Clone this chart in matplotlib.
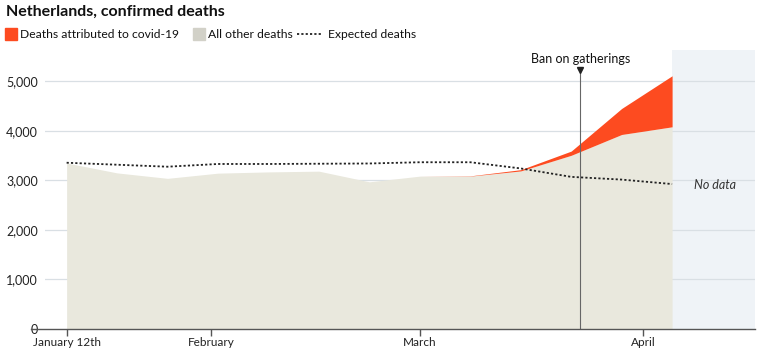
import matplotlib.pyplot as plt
import matplotlib.dates as mdates
from matplotlib.patches import Rectangle
from matplotlib.lines import Line2D
import pandas as pd

plt.rcParams['font.family'] = ['Lato', 'DejaVu Sans']

# weekly data, Jan 12th to Apr 5th 2020
weeks = pd.date_range('2020-01-12', periods=13, freq='7D')
other_deaths = [3350, 3150, 3040, 3145, 3170, 3185, 2970, 3085, 3085, 3190, 3505, 3925, 4080]
covid_deaths = [0, 0, 0, 0, 0, 0, 0, 0, 5, 25, 85, 525, 1030]
expected_deaths = [3355, 3315, 3275, 3330, 3330, 3335, 3340, 3365, 3365, 3240, 3070, 3015, 2925]

tick_dates = pd.to_datetime(['2020-01-12', '2020-02-01', '2020-03-01', '2020-04-01'])
tick_labels = ['January 12th', 'February', 'March', 'April']
yticks = [0, 1000, 2000, 3000, 4000, 5000]
ban_date = pd.Timestamp('2020-03-23 06:00')

red = '#fd4b20'
beige = '#e9e8dd'
dots = (0, (1.2, 1.2))

fig = plt.figure(figsize=(7.58, 3.52), dpi=100)
ax = fig.add_axes([45/758, 23/352, 710/758, 279/352])

total = [o + c for o, c in zip(other_deaths, covid_deaths)]
ax.fill_between(weeks, 0, other_deaths, color=beige, lw=0, zorder=2)
ax.fill_between(weeks, other_deaths, total, color=red, lw=0, zorder=2)
ax.plot(weeks, expected_deaths, color='#222222', lw=1.3, ls=dots, zorder=4)

xmin = pd.Timestamp('2020-01-09')
xmax = pd.Timestamp('2020-04-16 12:00')
ax.set_xlim(xmin, xmax)
ax.set_ylim(0, 5630)

# no data region starts where the data ends; gridlines sit over it, under the areas
ax.axvspan(weeks[-1], xmax, color='#eff3f7', lw=0, zorder=0.5)
for v in yticks[1:]:
    ax.axhline(v, color='#d9dfe4', lw=0.9, zorder=1)
ax.text(pd.Timestamp('2020-04-11'), 2900, 'No data', style='italic', fontsize=9,
        color='#333333', ha='center', va='center', zorder=5)

# ban on gatherings marker
ax.axvline(ban_date, ymin=0, ymax=5220/5630, color='#666666', lw=0.8, zorder=5)
ax.plot([ban_date], [5220], marker='v', color='#222222', markersize=4, zorder=6)
ax.text(ban_date, 5320, 'Ban on gatherings', ha='center', va='bottom', fontsize=9,
        color='#111111', zorder=6)

ax.set_yticks(yticks)
ax.set_yticklabels([f'{v:,}' for v in yticks])
ax.tick_params(axis='y', length=0, pad=5, labelsize=9, labelcolor='#222222')

ax.set_xticks(tick_dates)
ax.set_xticklabels(tick_labels)
ax.tick_params(axis='x', length=5, width=1, color='#555555', pad=1, labelsize=8.5,
               labelcolor='#222222')

for s in ['top', 'right', 'left']:
    ax.spines[s].set_visible(False)
ax.spines['bottom'].set_color('#555555')
ax.spines['bottom'].set_linewidth(1)
ax.spines['bottom'].set_bounds(mdates.date2num(pd.Timestamp('2020-01-07')), mdates.date2num(xmax))
ax.spines['bottom'].set_zorder(7)

fig.text(6/758, 1 - 12/352, 'Netherlands, confirmed deaths', fontsize=11.5, fontweight='bold',
         va='center', ha='left', color='#111111')

# legend row, placed by hand in pixel units
W, H = 758, 352
ly = H - 34
fig.add_artist(Rectangle((5/W, (ly - 6)/H), 12/W, 12/H, color=red, transform=fig.transFigure))
fig.text(20/W, ly/H, 'Deaths attributed to covid-19', fontsize=8.7, va='center', color='#111111')
fig.add_artist(Rectangle((193/W, (ly - 6)/H), 12/W, 12/H, color='#d2d1c8', transform=fig.transFigure))
fig.text(208/W, ly/H, 'All other deaths', fontsize=8.7, va='center', color='#111111')
fig.add_artist(Line2D([297/W, 323/W], [ly/H, ly/H], color='#222222', lw=1.3, ls=dots,
                      transform=fig.transFigure))
fig.text(328/W, ly/H, 'Expected deaths', fontsize=8.7, va='center', color='#111111')

fig.savefig('out.png', dpi=100)
